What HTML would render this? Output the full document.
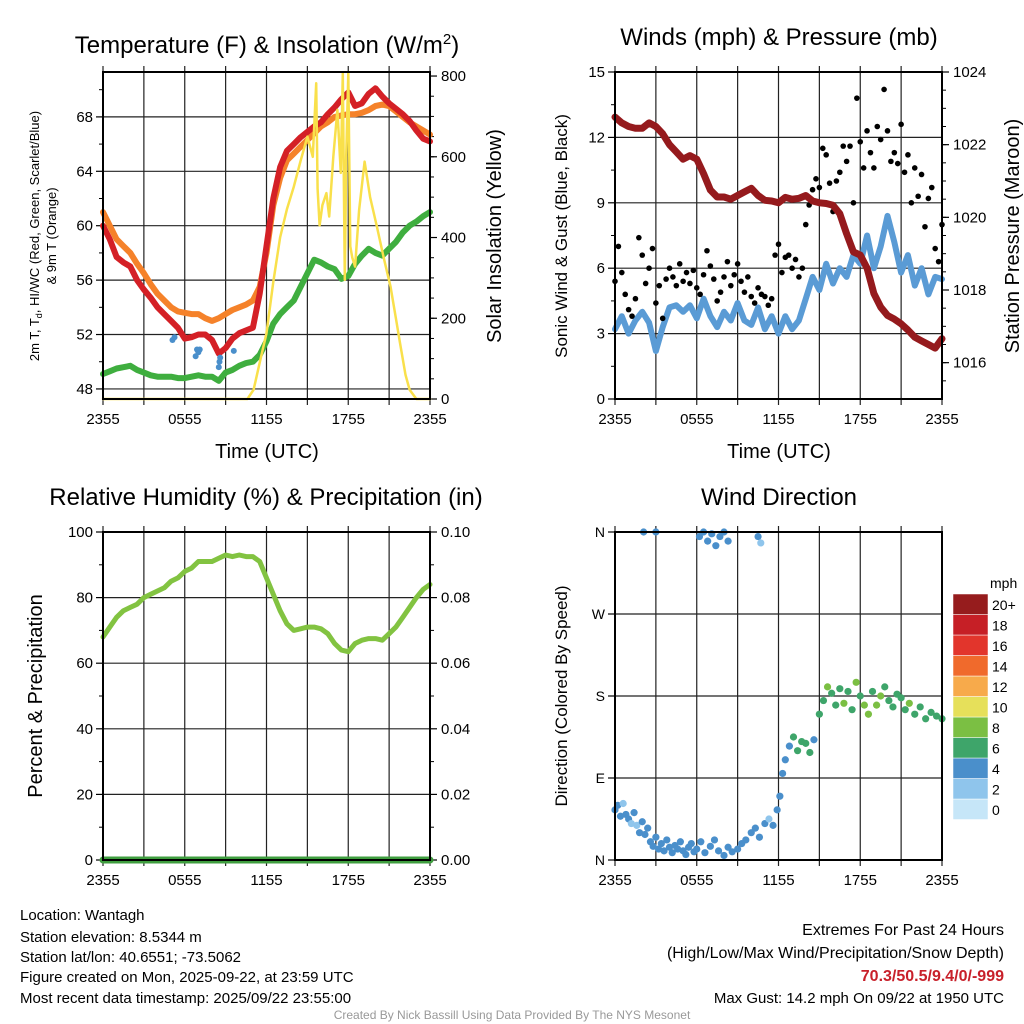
<!DOCTYPE html>
<html><head><meta charset="utf-8"><style>
html,body{margin:0;padding:0;background:#fff}
svg{display:block;font-family:"Liberation Sans",sans-serif}
</style></head><body>
<svg id="chart" width="1024" height="1024" viewBox="0 0 1024 1024" xmlns="http://www.w3.org/2000/svg">
<rect width="1024" height="1024" fill="#fff"/>
<text x="267" y="53" font-size="24" text-anchor="middle">Temperature (F) &amp; Insolation (W/m<tspan dy="-9" font-size="15">2</tspan><tspan dy="9">)</tspan></text>
<text x="779" y="45" font-size="24" text-anchor="middle">Winds (mph) &amp; Pressure (mb)</text>
<text x="266" y="505" font-size="24" text-anchor="middle">Relative Humidity (%) &amp; Precipitation (in)</text>
<text x="779" y="505" font-size="24" text-anchor="middle">Wind Direction</text>
<text x="267" y="458" font-size="20" text-anchor="middle">Time (UTC)</text>
<text x="779" y="458" font-size="20" text-anchor="middle">Time (UTC)</text>
<g font-size="13" text-anchor="middle">
<text transform="translate(39,236) rotate(-90)">2m T, T<tspan font-size="9" dy="3">d</tspan><tspan dy="-3">, HI/WC (Red, Green, Scarlet/Blue)</tspan></text>
<text transform="translate(56,236) rotate(-90)">&amp; 9m T (Orange)</text>
</g>
<text transform="translate(501,236) rotate(-90)" font-size="20" text-anchor="middle">Solar Insolation (Yellow)</text>
<text transform="translate(567,236) rotate(-90)" font-size="17" text-anchor="middle">Sonic Wind &amp; Gust (Blue, Black)</text>
<text transform="translate(1019,236) rotate(-90)" font-size="20" text-anchor="middle">Station Pressure (Maroon)</text>
<text transform="translate(42,696) rotate(-90)" font-size="20" text-anchor="middle">Percent &amp; Precipitation</text>
<text transform="translate(567,696) rotate(-90)" font-size="17" text-anchor="middle">Direction (Colored By Speed)</text>
<g font-size="15">
<text x="20" y="920">Location: Wantagh</text>
<text x="20" y="942">Station elevation: 8.5344 m</text>
<text x="20" y="962">Station lat/lon: 40.6551; -73.5062</text>
<text x="20" y="982">Figure created on Mon, 2025-09-22, at 23:59 UTC</text>
<text x="20" y="1003">Most recent data timestamp: 2025/09/22 23:55:00</text>
</g>
<g text-anchor="end">
<text x="1004" y="935" font-size="16">Extremes For Past 24 Hours</text>
<text x="1004" y="958" font-size="16">(High/Low/Max Wind/Precipitation/Snow Depth)</text>
<text x="1004" y="981" font-size="16" font-weight="bold" fill="#c8202a">70.3/50.5/9.4/0/-999</text>
<text x="1004" y="1003" font-size="15">Max Gust: 14.2 mph On 09/22 at 1950 UTC</text>
</g>
<text x="512" y="1019" font-size="12" fill="#999" text-anchor="middle">Created By Nick Bassill Using Data Provided By The NYS Mesonet</text>
</svg>
<script>
// ---- data ----
const timeLabels = ["2355","0555","1155","1755","2355"];
const halfHours = [0,0.5,1,1.5,2,2.5,3,3.5,4,4.5,5,5.5,6,6.5,7,7.5,8,8.5,9,9.5,10,10.5,11,11.5,12,12.5,13,13.5,14,14.5,15,15.5,16,16.5,17,17.5,18,18.5,19,19.5,20,20.5,21,21.5,22,22.5,23,23.5,24];
const tempRed = [60,59,57.7,57.3,57,56,55.3,54.7,54,53.5,53,52.5,51.7,51.8,52,52,51.6,50.6,51,51.7,52.1,52.3,52.5,55,58.5,62,64.3,65.5,66,66.5,66.9,67.3,67.6,68.2,68.7,69.3,69.8,68.8,69,69.7,70.1,69.5,69,68.6,68.2,67.7,67,66.4,66.2];
const tempOrange = [61,60,59,58.5,58,57.2,56.5,55.7,55,54.5,54,53.7,53.6,53.5,53.5,53.2,53,53.2,53.5,53.8,54,54.2,54.5,55.5,58,61.5,63.5,64.8,65.3,65.8,66.3,66.8,67.3,67.6,68,68.1,68.2,68.2,68.3,68.5,68.8,68.9,68.8,68.4,68,67.6,67.3,67,66.7];
const dewGreen = [49.1,49.3,49.5,49.6,49.7,49.4,49.2,49,48.9,48.9,48.9,48.8,48.8,48.9,49,48.9,48.9,48.6,49.2,49.4,49.7,49.9,50,50.5,51.5,52.8,53.5,54,54.5,55.5,56.5,57.5,57.3,57,56.8,56.1,56.3,57.2,57.8,58.3,58,57.8,58.3,58.8,59.5,60,60.3,60.7,61];
const hiwcTimes = [5.1,5.25,6.8,6.9,7.0,7.1,8.5,8.55,8.6,9.6];
const hiwcVals = [51.6,51.8,50.4,50.9,50.7,50.9,49.6,50.0,50.3,50.8];
const solarTimes = [0,10.6,11.05,11.5,12,12.5,13,13.5,14,14.5,15,15.4,15.65,15.75,15.9,16.1,16.4,16.6,16.9,17.2,17.45,17.6,17.75,17.85,18,18.15,18.3,18.5,18.8,19.2,19.6,20.1,20.6,21.1,21.5,21.8,22.2,22.5,23,24];
const solarVals = [0,0,23,90,163,290,400,470,526,590,650,600,782,520,430,480,510,452,600,716,560,807,295,600,807,378,350,328,468,588,500,427,350,279,200,139,60,23,0,0];
const pressure = [1022.76,1022.6,1022.5,1022.45,1022.45,1022.6,1022.5,1022.3,1022,1021.8,1021.6,1021.7,1021.6,1021.2,1020.75,1020.56,1020.56,1020.5,1020.6,1020.7,1020.8,1020.6,1020.47,1020.45,1020.4,1020.55,1020.5,1020.52,1020.6,1020.45,1020.4,1020.38,1020.33,1020.1,1019.55,1019.05,1018.96,1018.6,1017.9,1017.53,1017.3,1017.2,1017.07,1016.9,1016.7,1016.6,1016.5,1016.4,1016.66];
const windSpeed = [3.2,3.8,3.0,3.6,4.0,3.5,2.2,3.3,4.2,4.3,4.0,4.3,3.7,4.6,3.8,3.3,4.0,3.6,4.4,3.6,3.4,4.2,3.2,3.8,3.0,3.8,3.2,3.6,4.6,5.6,5.0,6.2,5.3,6.0,5.6,6.6,6.2,7.5,6.0,7.0,8.4,7.2,5.8,6.6,5.2,6.0,4.8,5.6,5.5];
const gustVals = [5.4,7.0,5.8,4.8,4.1,3.8,4.6,7.4,6.6,5.3,6.0,6.9,
4.4,5.2,3.7,5.5,6.0,5.6,5.2,6.2,5.4,5.8,5.3,5.9,
5.1,4.8,5.7,6.8,6.1,5.5,4.5,4.9,5.6,6.3,5.2,5.7,
6.2,5.4,4.9,5.6,4.7,4.4,5.1,4.8,4.7,4.3,4.6,6.6,
7.1,5.8,6.5,6.6,6.0,6.4,5.6,6.0,8.0,8.9,9.6,10.1,
9.7,11.5,11.2,9.9,8.6,10.0,10.4,11.6,10.9,11.6,9.0,13.8,
11.8,10.6,12.3,11.3,10.6,12.5,11.9,14.2,12.3,10.9,11.3,10.8,
12.6,10.4,11.2,9.0,10.6,9.3,10.3,7.9,9.2,9.7,6.9,6.3,8.0];
const humidity = [68,71,74,76,77,78,80,81,82,83,85,86,88,89,91,91,91,92,93,92.5,93,92.5,92.5,91,86,81,76,72,70,70.5,71,71,70.5,69,66,64,63.5,66,67,67.5,67.5,67,69,71,74,77,80,82.5,84];
const precip = [0,0,0,0,0,0,0,0,0,0,0,0,0,0,0,0,0,0,0,0,0,0,0,0,0,0,0,0,0,0,0,0,0,0,0,0,0,0,0,0,0,0,0,0,0,0,0,0,0];
const dirTimes = [0,0.2,0.4,0.6,0.8,1,1.2,1.4,1.6,1.8,2,2.2,2.4,2.6,2.8,3,3.2,3.4,3.6,3.8,4,4.2,4.4,4.6,4.8,5,5.2,5.4,5.6,5.8,6,6.3,6.6,7,7.3,7.6,8,8.3,8.6,9,9.3,9.6,10,10.3,10.6,11,11.3,11.6,11.9,12.1,12.3,12.5,12.8,13.1,13.4,13.7,14,14.3,14.6,15,15.3,15.6,15.9,16.2,16.5,16.8,17.1,17.4,17.7,18,18.3,18.6,18.9,19.2,19.5,19.8,20.1,20.4,20.7,21,21.3,21.6,22,22.4,22.8,23.2,23.6,24,2.1,3.0,6.2,6.5,6.8,7.1,7.4,7.7,8.0,8.3,10.5,10.7];
const dirVals = [55,60,48,62,50,45,40,52,38,30,42,28,35,20,15,25,12,18,10,22,14,8,16,12,20,10,6,14,18,9,12,20,8,15,22,10,5,14,9,12,18,22,30,35,25,40,45,38,55,70,95,110,125,135,120,130,128,118,132,160,175,190,183,170,188,172,185,165,195,180,170,160,185,170,180,190,175,168,182,178,165,172,160,168,155,162,158,155,360,360,355,360,350,358,345,355,360,350,355,348];
const dirSpeeds = [3,4,3,2,3,4,2,3,2,3,3,4,3,4,3,4,3,4,3,4,3,4,3,4,3,4,3,4,3,4,3,4,3,4,3,4,3,4,3,4,3,4,3,4,3,4,2,3,3,4,4,4,4,5,6,5,6,5,4,6,6,7,6,6,6,7,6,6,7,6,8,8,6,8,8,6,6,6,6,6,6,8,6,6,6,6,6,6,3,3,3,4,3,4,3,4,3,4,3,2];
const speedLabels = ["0","2","4","6","8","10","12","14","16","18","20+"];
const speedColors = ["#c6e6f8","#8fc5ec","#4a8fcb","#3ea56a","#7bbf43","#e6e05a","#f7aa4b","#f06a2c","#e2352c","#c61f26","#961c1d"];

// ---- helpers ----
const NS="http://www.w3.org/2000/svg";
const svg=document.getElementById('chart');
function mk(tag,attrs,parent){const e=document.createElementNS(NS,tag);for(const k in attrs)e.setAttribute(k,attrs[k]);(parent||svg).appendChild(e);return e;}
function txt(s,attrs,parent){const e=mk('text',attrs,parent);e.textContent=s;return e;}
function xAxis(x0,x1){return h=>x0+h/24*(x1-x0);}
function yAxis(y0,y1,v0,v1){return v=>y1-(v-v0)/(v1-v0)*(y1-y0);}

function frame(name,L,R,T,B,hLines){
  const g=mk('g',{});
  
  
  const X=xAxis(L,R);
  for(let h=0;h<=24;h+=3){
    const gl=mk('line',{x1:X(h),x2:X(h),y1:T-6,y2:B+6,stroke:'#222','stroke-width':1.2},g);
    
    
  }
  hLines.forEach(y=>{
    const gl=mk('line',{x1:L,x2:R,y1:y,y2:y,stroke:'#222','stroke-width':1.2},g);
    
    
  });
  timeLabels.forEach((t,i)=>{
    const tl=txt(t,{x:X(i*6),y:B+25,'font-size':15,'text-anchor':'middle'},g);
    
    
  });
  return X;
}
function border(name,L,R,T,B){
  const r=mk('rect',{x:L,y:T,width:R-L,height:B-T,fill:'none',stroke:'#000','stroke-width':2});
  
  
}
function ticksLeft(L,vals,Y,labels,minor,fs){
  vals.forEach((v,i)=>{
    mk('line',{x1:L-7,x2:L,y1:Y(v),y2:Y(v),stroke:'#000','stroke-width':1.2});
    const t=txt(labels[i],{x:L-10,y:Y(v)+5,'font-size':fs||15,'text-anchor':'end'});
    
    
  });
  minor.forEach(v=>mk('line',{x1:L-4,x2:L,y1:Y(v),y2:Y(v),stroke:'#000','stroke-width':1}));
}
function ticksRight(R,vals,Y,labels,minor){
  vals.forEach((v,i)=>{
    mk('line',{x1:R,x2:R+7,y1:Y(v),y2:Y(v),stroke:'#000','stroke-width':1.2});
    const t=txt(labels[i],{x:R+11,y:Y(v)+5,'font-size':15});
    
    
  });
  minor.forEach(v=>mk('line',{x1:R,x2:R+4,y1:Y(v),y2:Y(v),stroke:'#000','stroke-width':1}));
}
function poly(xs,ys,X,Y,color,w,name){
  const d=xs.map((t,i)=>(i?'L':'M')+X(t).toFixed(1)+','+Y(ys[i]).toFixed(1)).join('');
  const p=mk('path',{d:d,fill:'none',stroke:color,'stroke-width':w,'stroke-linejoin':'round','stroke-linecap':'round'});
  
  
  return p;
}
function range(a,b,s){const r=[];for(let v=a;v<=b+1e-9;v+=s)r.push(+v.toFixed(3));return r;}

// ---- panel 1: temperature ----
{
  const L=103,R=430,T=72,B=399;
  const Yt=yAxis(T,B,47.26,71.3), Ys=yAxis(T,B,0,810);
  const X=frame('temperature',L,R,T,B,[48,52,56,60,64,68].map(Yt));
  ticksLeft(L,[48,52,56,60,64,68],Yt,["48","52","56","60","64","68"],[50,54,58,62,66,70]);
  ticksRight(R,[0,200,400,600,800],Ys,["0","200","400","600","800"],range(50,750,50));
  poly(halfHours,tempOrange,X,Yt,'#f5822a',6,'temp-9m-line');
  poly(halfHours,tempRed,X,Yt,'#d42026',6,'temp-2m-line');
  poly(halfHours,dewGreen,X,Yt,'#3fae3f',6,'dewpoint-line');
  hiwcTimes.forEach((t,i)=>{
    const c=mk('circle',{cx:X(t),cy:Yt(hiwcVals[i]),r:3,fill:'#4a8fcb'});
    
    
  });
  poly(solarTimes,solarVals,X,Ys,'#f9e04b',2.5,'solar-insolation-line');
  border('temperature',L,R,T,B);
}
// ---- panel 2: wind & pressure ----
{
  const L=615,R=942,T=72,B=399;
  const Yw=yAxis(T,B,0,15), Yp=yAxis(T,B,1015,1024);
  const X=frame('wind',L,R,T,B,[3,6,9,12].map(Yw));
  ticksLeft(L,[0,3,6,9,12,15],Yw,["0","3","6","9","12","15"],[1.5,4.5,7.5,10.5,13.5]);
  ticksRight(R,[1016,1018,1020,1022,1024],Yp,["1016","1018","1020","1022","1024"],range(1015.5,1023.5,0.5));
  poly(halfHours,windSpeed,X,Yw,'#5a9bd5',6,'sonic-wind-line');
  gustVals.forEach((v,i)=>{
    const c=mk('circle',{cx:X(i*0.25),cy:Yw(v),r:2.8,fill:'#000'});
    
    
  });
  poly(halfHours,pressure,X,Yp,'#951a1d',7,'pressure-line');
  border('wind',L,R,T,B);
}
// ---- panel 3: humidity ----
{
  const L=103,R=430,T=532,B=860;
  const Yh=yAxis(T,B,0,100), Yr=yAxis(T,B,0,0.1);
  const X=frame('humidity',L,R,T,B,[20,40,60,80].map(Yh));
  ticksLeft(L,[0,20,40,60,80,100],Yh,["0","20","40","60","80","100"],[10,30,50,70,90]);
  ticksRight(R,[0,0.02,0.04,0.06,0.08,0.1],Yr,["0.00","0.02","0.04","0.06","0.08","0.10"],[0.01,0.03,0.05,0.07,0.09]);
  poly(halfHours,humidity,X,Yh,'#82c341',5,'humidity-line');
  poly(halfHours,precip,X,Yr,'#3f9e3f',7,'precipitation-line');
  border('humidity',L,R,T,B);
}
// ---- panel 4: wind direction ----
{
  const L=615,R=942,T=532,B=860;
  const Yd=yAxis(T,B,0,360);
  const X=frame('direction',L,R,T,B,[90,180,270].map(Yd));
  ticksLeft(L,[0,90,180,270,360],Yd,["N","E","S","W","N"],[],14);
  dirTimes.forEach((t,i)=>{
    const idx=Math.min(10,Math.round(dirSpeeds[i]/2));
    const c=mk('circle',{cx:X(t),cy:Yd(Math.min(360,dirVals[i])),r:3.6,fill:speedColors[idx]});
    
    
  });
  border('direction',L,R,T,B);
  const lg=mk('g',{});
  
  
  const cbTop=594,cbH=20.5;
  speedLabels.forEach((s,i)=>{
    const y=cbTop+(10-i)*cbH;
    mk('rect',{x:953,y:y,width:35,height:cbH,fill:speedColors[i],stroke:'#fff','stroke-width':0.5},lg);
    const t=txt(s,{x:992,y:y+16,'font-size':14},lg);
    
    
  });
  const u=txt('mph',{x:990,y:588,'font-size':14},lg);
  
  
}
</script>
</body></html>
